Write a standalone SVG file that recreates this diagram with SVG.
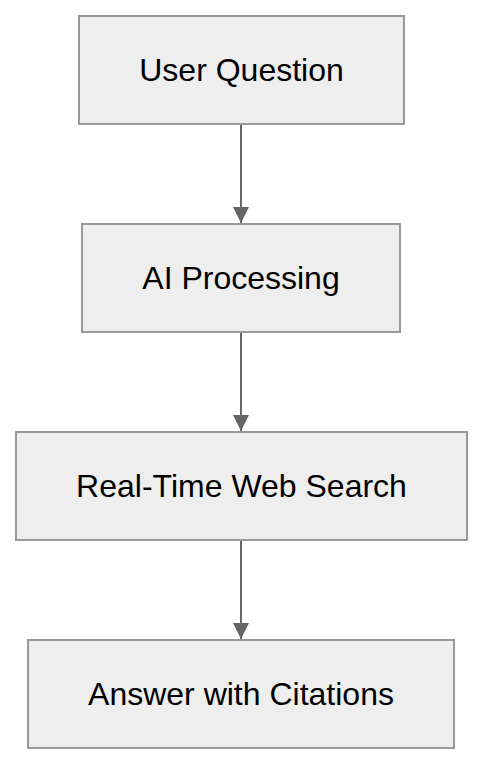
<svg xmlns="http://www.w3.org/2000/svg" width="482" height="764" viewBox="0 0 482 764">
<style>
.box{fill:#eeeeee;stroke:#999999;stroke-width:2}
.lbl{font-family:"Liberation Sans",Arial,sans-serif;font-size:32px;fill:#000;text-anchor:middle}
.edge{stroke:#666666;stroke-width:2;fill:none}
</style>
<defs>
<marker id="arr" markerUnits="userSpaceOnUse" markerWidth="16" markerHeight="16" refX="16" refY="8" orient="auto" viewBox="0 0 16 16">
<path d="M0,0 L16,8 L0,16 Z" fill="#666666"/>
</marker>
</defs>
<rect width="482" height="764" fill="#ffffff"/>
<g id="connectors">
<line class="edge" x1="241" y1="125" x2="241" y2="223" marker-end="url(#arr)"/>
<line class="edge" x1="241" y1="333" x2="241" y2="431" marker-end="url(#arr)"/>
<line class="edge" x1="241" y1="541" x2="241" y2="639" marker-end="url(#arr)"/>
</g>
<g id="n1"><rect class="box" x="79" y="16" width="325" height="108"/><text class="lbl" x="241.5" y="81">User Question</text></g>
<g id="n2"><rect class="box" x="82" y="224" width="318" height="108"/><text class="lbl" x="241" y="289">AI Processing</text></g>
<g id="n3"><rect class="box" x="16" y="432" width="451" height="108"/><text class="lbl" x="241.5" y="497">Real-Time Web Search</text></g>
<g id="n4"><rect class="box" x="28" y="640" width="426" height="108"/><text class="lbl" x="241" y="705">Answer with Citations</text></g>
</svg>
